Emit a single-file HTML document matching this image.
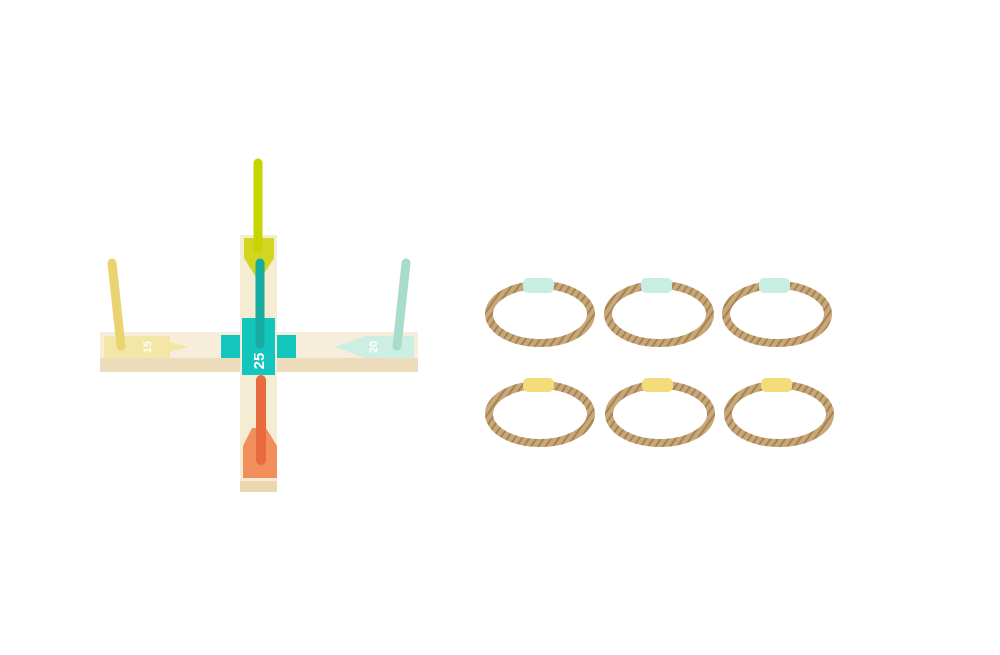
<!DOCTYPE html>
<html><head><style>html,body{margin:0;padding:0;background:#fff;width:1000px;height:655px;overflow:hidden}</style></head>
<body>
<svg width="1000" height="655" viewBox="0 0 1000 655" xmlns="http://www.w3.org/2000/svg">
<defs>
<pattern id="rope" width="6" height="6" patternUnits="userSpaceOnUse" patternTransform="rotate(35)">
<rect width="6" height="6" fill="#c9a878"/><rect width="2" height="6" fill="#a58356"/>
</pattern>
</defs>
<!-- horizontal bar -->
<rect x="100" y="332" width="318" height="28" fill="#f6eedb"/>
<rect x="100" y="358" width="318" height="14" fill="#ecdcbc"/>
<!-- vertical bar -->
<rect x="240" y="235" width="37" height="248" fill="#f5ecd4"/>
<rect x="240" y="481" width="37" height="11" fill="#e9d7b2"/>
<!-- lime triangle -->
<polygon points="244,238 274,238 274,258 259,282 244,258" fill="#d3d620"/>
<!-- yellow left -->
<polygon points="104,336 170,336 170,358 104,358" fill="#f4e6a6"/>
<polygon points="163,340 188,347 163,354" fill="#f4e6a6"/>
<text transform="translate(148,347) rotate(-90)" font-family="Liberation Sans, sans-serif" font-size="11" font-weight="bold" fill="#fff" text-anchor="middle" dominant-baseline="middle">15</text>
<!-- mint right -->
<polygon points="414,336 365,336 335,347 365,358 414,358" fill="#cdeee3"/>
<text transform="translate(374,347) rotate(-90)" font-family="Liberation Sans, sans-serif" font-size="11" font-weight="bold" fill="#fff" text-anchor="middle" dominant-baseline="middle">20</text>
<!-- teal center -->
<rect x="221" y="335" width="19" height="23" fill="#12c6bd"/>
<rect x="277" y="335" width="19" height="23" fill="#12c6bd"/>
<rect x="242" y="318" width="33" height="57" fill="#12c6bd"/>
<text transform="translate(260,361) rotate(-90)" font-family="Liberation Sans, sans-serif" font-size="15" font-weight="bold" fill="#fff" text-anchor="middle" dominant-baseline="middle">25</text>
<!-- orange -->
<polygon points="252,428 266,428 277,446 277,478 243,478 243,446" fill="#f28d5c"/>
<!-- pegs -->
<line x1="258" y1="163" x2="258" y2="248" stroke="#c8d400" stroke-width="9" stroke-linecap="round"/>
<line x1="112" y1="263" x2="121" y2="346" stroke="#ecd372" stroke-width="9" stroke-linecap="round"/>
<line x1="406" y1="263" x2="397" y2="346" stroke="#a8dccc" stroke-width="9" stroke-linecap="round"/>
<line x1="260" y1="263" x2="260" y2="344" stroke="#17aba2" stroke-width="9" stroke-linecap="round"/>
<line x1="261" y1="380" x2="261" y2="460" stroke="#e76b3c" stroke-width="10" stroke-linecap="round"/>
<!-- rings -->
<g fill="none" stroke="url(#rope)" stroke-width="8">
<ellipse cx="540" cy="314" rx="51" ry="29"/>
<ellipse cx="659" cy="314" rx="51" ry="29"/>
<ellipse cx="777" cy="314" rx="51" ry="29"/>
<ellipse cx="540" cy="414" rx="51" ry="29"/>
<ellipse cx="660" cy="414" rx="51" ry="29"/>
<ellipse cx="779" cy="414" rx="51" ry="29"/>
</g>
<g>
<rect x="523" y="278" width="31" height="15" rx="5" fill="#c8eee2"/>
<rect x="641" y="278" width="31" height="15" rx="5" fill="#c8eee2"/>
<rect x="759" y="278" width="31" height="15" rx="5" fill="#c8eee2"/>
<rect x="523" y="378" width="31" height="14" rx="5" fill="#f4dc7a"/>
<rect x="642" y="378" width="31" height="14" rx="5" fill="#f4dc7a"/>
<rect x="761" y="378" width="31" height="14" rx="5" fill="#f4dc7a"/>
</g>
</svg>
</body></html>
